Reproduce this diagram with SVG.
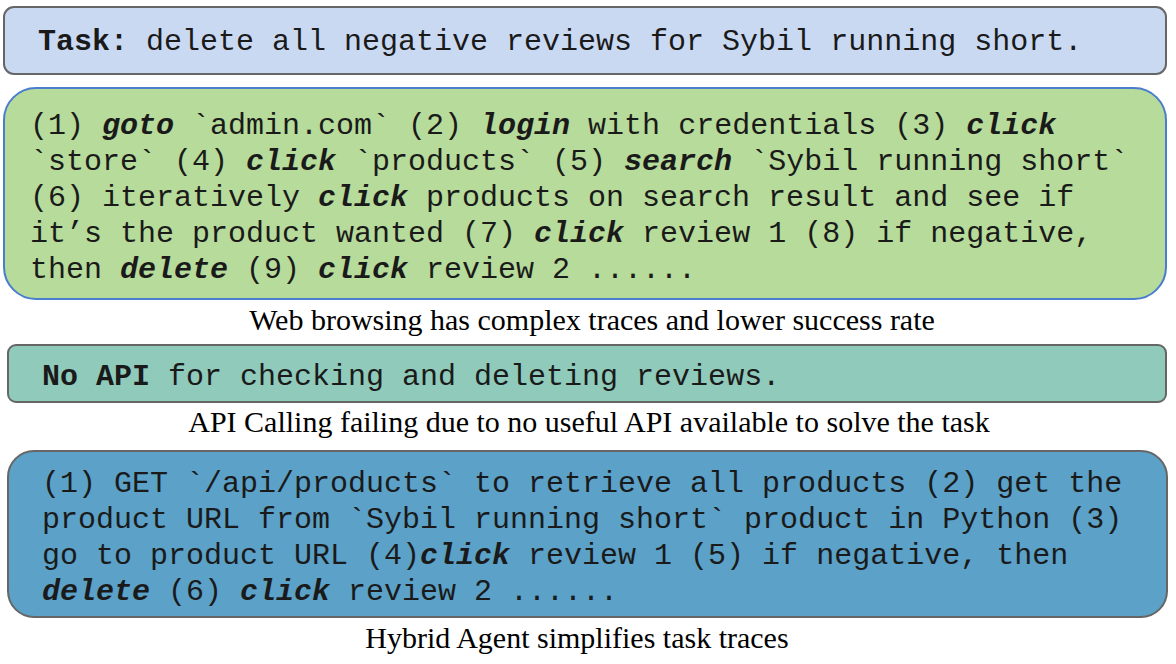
<svg xmlns="http://www.w3.org/2000/svg" width="1176" height="664" viewBox="0 0 1176 664">
<style>
.mono{font-family:"Liberation Mono","Courier New",monospace;font-size:30px;fill:#1a1a1a;white-space:pre}
.b{font-weight:bold}
.bi{font-weight:bold;font-style:italic}
.cap{font-family:"Liberation Serif","Times New Roman",serif;font-size:30px;fill:#000;text-anchor:middle}
</style>
<rect width="1176" height="664" fill="#fff"/>
<g id="task">
<rect x="4" y="7" width="1162" height="67" rx="10" fill="#cad9f2" stroke="#666" stroke-width="2"/>
<text class="mono" x="38" y="50" xml:space="preserve"><tspan class="b">Task:</tspan> delete all negative reviews for Sybil running short.</text>
</g>
<g id="web">
<rect x="4" y="88" width="1162" height="211" rx="32" fill="#b7db9a" stroke="#4a7ccf" stroke-width="2"/>
<text class="mono" xml:space="preserve"><tspan x="30" y="134">(1) <tspan class="bi">goto</tspan> `admin.com` (2) <tspan class="bi">login</tspan> with credentials (3) <tspan class="bi">click</tspan></tspan><tspan x="30" y="170">`store` (4) <tspan class="bi">click</tspan> `products` (5) <tspan class="bi">search</tspan> `Sybil running short`</tspan><tspan x="30" y="206">(6) iteratively <tspan class="bi">click</tspan> products on search result and see if</tspan><tspan x="30" y="242">it’s the product wanted (7) <tspan class="bi">click</tspan> review 1 (8) if negative,</tspan><tspan x="30" y="278">then <tspan class="bi">delete</tspan> (9) <tspan class="bi">click</tspan> review 2 ......</tspan></text>
</g>
<text class="cap" x="592" y="330">Web browsing has complex traces and lower success rate</text>
<g id="api">
<rect x="8" y="345" width="1158" height="57" rx="8" fill="#8fcabb" stroke="#666" stroke-width="2"/>
<text class="mono" x="42" y="385" xml:space="preserve"><tspan class="b">No API</tspan> for checking and deleting reviews.</text>
</g>
<text class="cap" x="589" y="432">API Calling failing due to no useful API available to solve the task</text>
<g id="hybrid">
<rect x="8" y="451" width="1159" height="166" rx="26" fill="#5ba1c8" stroke="#666" stroke-width="2"/>
<text class="mono" xml:space="preserve"><tspan x="42" y="492">(1) GET `/api/products` to retrieve all products (2) get the</tspan><tspan x="42" y="528">product URL from `Sybil running short` product in Python (3)</tspan><tspan x="42" y="564">go to product URL (4)<tspan class="bi">click</tspan> review 1 (5) if negative, then</tspan><tspan x="42" y="600"><tspan class="bi">delete</tspan> (6) <tspan class="bi">click</tspan> review 2 ......</tspan></text>
</g>
<text class="cap" x="577" y="648">Hybrid Agent simplifies task traces</text>
<g id="connectors"></g>
</svg>
